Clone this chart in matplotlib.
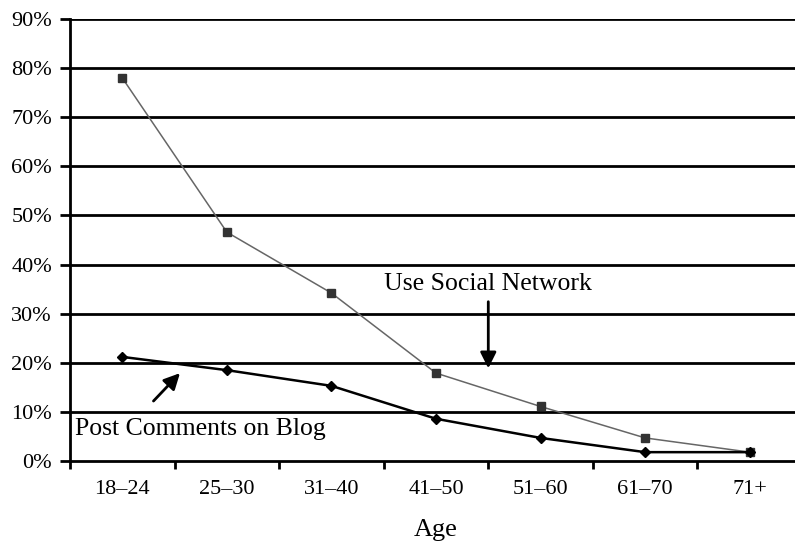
import matplotlib
matplotlib.use("Agg")
import matplotlib.pyplot as plt

ages = ["18\u201324", "25\u201330", "31\u201340", "41\u201350", "51\u201360", "61\u201370", "71+"]
social = [78.0, 46.6, 34.2, 17.9, 11.1, 4.7, 1.8]
blog = [21.2, 18.5, 15.3, 8.6, 4.7, 1.8, 1.8]
yticks = [0, 10, 20, 30, 40, 50, 60, 70, 80, 90]

plt.rcParams['font.family'] = ['Liberation Serif', 'DejaVu Serif']

fig = plt.figure(figsize=(7.95, 5.46), dpi=100)
ax = fig.add_axes([70 / 795, 85 / 546, 732 / 795, 442 / 546])

x = list(range(len(ages)))
for yv in yticks[1:]:
    ax.axhline(yv, color="black", lw=2, zorder=1)

ax.plot(x, social, color="#666666", lw=1.1, marker="s", markersize=6,
        markerfacecolor="#333333", markeredgecolor="#333333", zorder=3)
ax.plot(x, blog, color="black", lw=1.8, marker="D", markersize=5,
        markerfacecolor="black", zorder=4)

ax.set_xlim(-0.5, 6.5)
ax.set_ylim(0, 90)
ax.set_yticks(yticks)
ax.set_yticklabels([f"{v}%" for v in yticks], fontsize=16)
ax.set_xticks([i + 0.5 for i in range(-1, 7)], minor=False)
ax.set_xticklabels([])
ax.set_xticks(x, minor=True)
ax.set_xticklabels(ages, minor=True, fontsize=16)
ax.tick_params(axis="x", which="minor", length=0, pad=14)
ax.tick_params(axis="x", which="major", length=6, width=2, direction="out")
ax.tick_params(axis="y", length=7, width=2, direction="out", pad=6)

for side in ["top", "right"]:
    ax.spines[side].set_visible(False)
ax.spines["left"].set_linewidth(2)
ax.spines["bottom"].set_linewidth(2)

ax.set_xlabel("Age", fontsize=19, labelpad=14)

ax.annotate("", xy=(3.5, 18.3), xytext=(3.5, 33.0),
            arrowprops=dict(arrowstyle="-|>", color="black", lw=2, mutation_scale=24))
ax.text(3.5, 36.0, "Use Social Network", fontsize=18.5, ha="center", va="center")

ax.annotate("", xy=(0.57, 18.3), xytext=(0.28, 11.8),
            arrowprops=dict(arrowstyle="-|>", color="black", lw=2, mutation_scale=24))
ax.text(-0.45, 6.5, "Post Comments on Blog", fontsize=18.5, ha="left", va="center")

fig.savefig("out.png", dpi=100)
